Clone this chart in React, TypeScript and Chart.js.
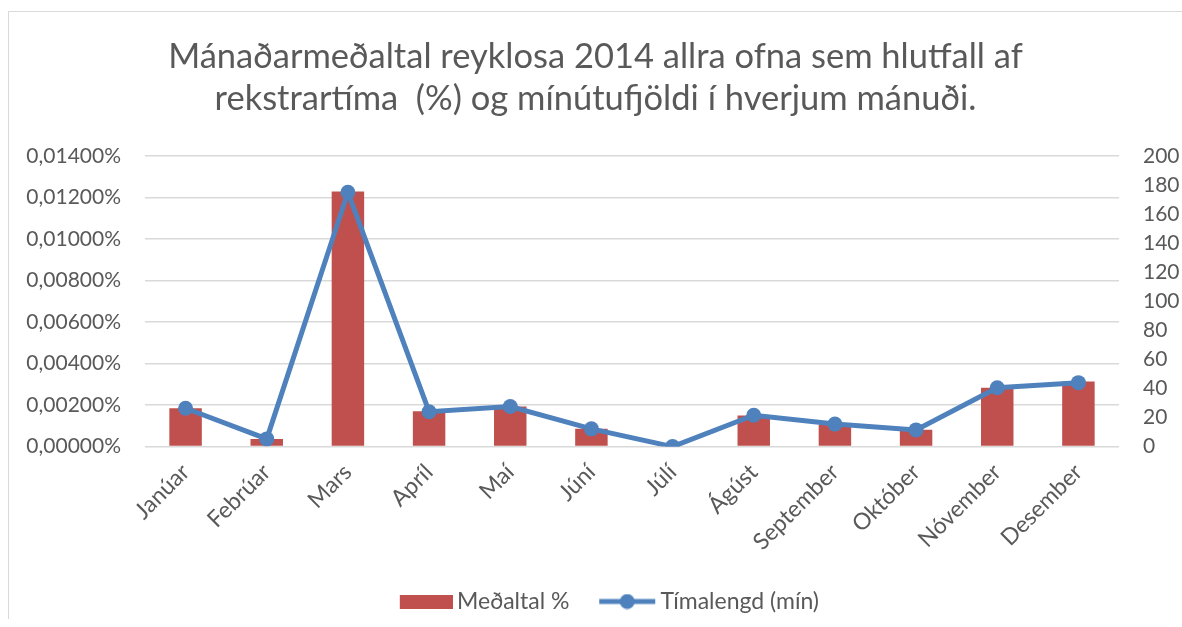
import React, { useEffect, useRef } from 'react';
import { Chart, registerables } from 'chart.js';

Chart.register(...registerables);

const months = ['Janúar', 'Febrúar', 'Mars', 'Apríl', 'Maí', 'Júní', 'Júlí', 'Ágúst', 'September', 'Október', 'Nóvember', 'Desember'];
const meanPercent = [0.00185, 0.00037, 0.01229, 0.0017, 0.00193, 0.00086, 0, 0.0015, 0.00105, 0.00081, 0.00284, 0.00313];
const minutes = [26.4, 5.3, 175, 24, 27.6, 12.2, 0, 21.6, 15.5, 11.5, 40.5, 44];
const titleLines = ['Mánaðarmeðaltal reyklosa 2014 allra ofna sem hlutfall af', 'rekstrartíma  (%) og mínútufjöldi í hverjum mánuði.'];
const seriesNames = ['Meðaltal %', 'Tímalengd (mín)'];

const RED = '#C0504D';
const BLUE = '#4F81BD';
const TEXT = '#595959';
const GRID = '#D9D9D9';
const FONT = 'Lato';

const LEG_FONT = 23;
const LEG_BOX = 73.5;
const LEG_EXTRA = 15;

function makeBarIcon(): HTMLCanvasElement {
  const c = document.createElement('canvas');
  c.width = LEG_BOX + LEG_EXTRA;
  c.height = 14;
  const ctx = c.getContext('2d')!;
  ctx.fillStyle = RED;
  ctx.fillRect(c.width - 53, 0, 53, 14);
  return c;
}

function makeLineIcon(): HTMLCanvasElement {
  const c = document.createElement('canvas');
  c.width = LEG_BOX + LEG_EXTRA;
  c.height = 16;
  const ctx = c.getContext('2d')!;
  ctx.strokeStyle = BLUE;
  ctx.lineWidth = 5;
  ctx.beginPath();
  ctx.moveTo(c.width - 57, 8);
  ctx.lineTo(c.width - 1, 8);
  ctx.stroke();
  ctx.fillStyle = BLUE;
  ctx.beginPath();
  ctx.arc(c.width - 29, 8, 7.5, 0, Math.PI * 2);
  ctx.fill();
  return c;
}

export default function App() {
  const ref = useRef<HTMLCanvasElement | null>(null);

  useEffect(() => {
    document.body.style.marginRight = '0px';
    const root = document.getElementById('root');
    if (root) root.style.width = '1174px';
    const barIcon = makeBarIcon();
    const lineIcon = makeLineIcon();
    const chart = new Chart(ref.current!, {
      data: {
        labels: months,
        datasets: [
          {
            type: 'line',
            label: seriesNames[1],
            data: minutes,
            yAxisID: 'y1',
            borderColor: BLUE,
            backgroundColor: BLUE,
            borderWidth: 5,
            pointRadius: 7.5,
            pointBackgroundColor: BLUE,
            pointBorderWidth: 0,
            tension: 0,
            order: 0,
          },
          {
            type: 'bar',
            label: seriesNames[0],
            data: meanPercent,
            yAxisID: 'y',
            backgroundColor: RED,
            borderWidth: 0,
            categoryPercentage: 1,
            barPercentage: 0.4,
            order: 1,
          },
        ],
      },
      options: {
        responsive: false,
        animation: false,
        layout: { padding: { left: 0, right: 0, top: 0, bottom: 4 } },
        plugins: {
          title: {
            display: true,
            text: titleLines,
            color: TEXT,
            font: { family: FONT, size: 34.5, weight: 'normal', lineHeight: 1.217 },
            padding: { top: 24, bottom: 36 },
          },
          legend: {
            position: 'bottom',
            labels: {
              usePointStyle: true,
              pointStyleWidth: LEG_BOX,
              padding: 6,
              color: TEXT,
              font: { family: FONT, size: LEG_FONT },
              generateLabels: () => [
                { text: seriesNames[0], pointStyle: barIcon, fillStyle: RED, strokeStyle: RED, lineWidth: 0, datasetIndex: 1, hidden: false, fontColor: TEXT },
                { text: seriesNames[1], pointStyle: lineIcon, fillStyle: BLUE, strokeStyle: BLUE, lineWidth: 0, datasetIndex: 0, hidden: false, fontColor: TEXT },
              ],
            },
          },
          tooltip: { enabled: false },
        },
        scales: {
          x: {
            grid: { display: false },
            border: { display: false },
            ticks: {
              color: TEXT,
              font: { family: FONT, size: 23 },
              minRotation: 45,
              maxRotation: 45,
              padding: 4,
            },
            afterFit: (s: any) => { s.height = 137.4; },
          },
          y: {
            position: 'left',
            min: 0,
            max: 0.014,
            grid: { color: GRID, lineWidth: 1.5, drawTicks: false },
            border: { display: false },
            ticks: {
              stepSize: 0.002,
              color: TEXT,
              padding: 24,
              font: { family: FONT, size: 21 },
              callback: (v: any) => Number(v).toFixed(5).replace('.', ',') + '%',
            },
            afterFit: (s: any) => { s.width = 136; },
          },
          y1: {
            position: 'right',
            min: 0,
            max: 200,
            grid: { drawOnChartArea: false, drawTicks: false },
            border: { display: false },
            ticks: {
              stepSize: 20,
              color: TEXT,
              padding: 24,
              font: { family: FONT, size: 21 },
            },
            afterFit: (s: any) => { s.width = 63; },
          },
        },
      } as any,
    });
    return () => chart.destroy();
  }, []);

  return (
    <div style={{ position: 'relative', width: 1174, height: 619, marginBottom: -8, overflow: 'hidden' }}>
      <div
        style={{
          position: 'absolute',
          left: 0,
          top: 3,
          width: 1173,
          height: 615,
          borderLeft: `1px solid ${GRID}`,
          borderTop: `1px solid ${GRID}`,
          background: '#fff',
        }}
      >
        <canvas ref={ref} width={1173} height={615} style={{ display: 'block' }} />
      </div>
    </div>
  );
}
